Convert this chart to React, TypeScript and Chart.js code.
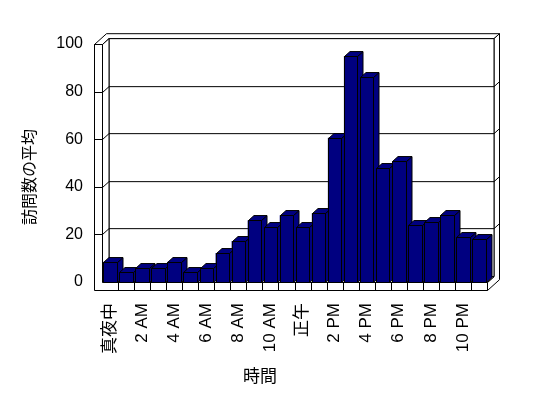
import React, { useEffect, useRef } from 'react';
import { Chart, registerables } from 'chart.js';

Chart.register(...registerables);

// ---- data ----
const hours = [
  '真夜中', '1 AM', '2 AM', '3 AM', '4 AM', '5 AM', '6 AM', '7 AM', '8 AM', '9 AM', '10 AM', '11 AM',
  '正午', '1 PM', '2 PM', '3 PM', '4 PM', '5 PM', '6 PM', '7 PM', '8 PM', '9 PM', '10 PM', '11 PM',
];
const visits = [
  8.5, 4.1, 5.8, 5.8, 8.5, 4.1, 5.8, 12.2, 17.2, 25.9, 23.0, 28.0,
  23.0, 28.9, 60.6, 95.0, 86.0, 47.8, 50.7, 23.8, 25.1, 28.0, 18.8, 17.9,
];
const yTicks = [0, 20, 40, 60, 80, 100];
const xTitle = '時間';
const yTitle = '訪問数の平均';

// ---- 3D look ----
const KX = 1;
const KY = 0.9;
const Z_BAR = 5.5;
const Z_IN = 6.5;
const Z_OUT = 12;
const WALL = 8;
const FLOOR = 8;
const NAVY = '#000080';
const FONT = "'Liberation Sans', 'Noto Sans CJK JP', sans-serif";
const CJK = "'Noto Sans CJK JP', sans-serif";

type Pt = [number, number];
const P = (x: number, y: number, z: number): Pt => [x + z * KX, y - z * KY];

function poly(ctx: CanvasRenderingContext2D, pts: Pt[], fill?: string) {
  ctx.beginPath();
  pts.forEach(([x, y], i) => (i ? ctx.lineTo(x, y) : ctx.moveTo(x, y)));
  ctx.closePath();
  if (fill) {
    ctx.fillStyle = fill;
    ctx.fill();
  }
  ctx.stroke();
}
function line(ctx: CanvasRenderingContext2D, pts: Pt[]) {
  ctx.beginPath();
  pts.forEach(([x, y], i) => (i ? ctx.lineTo(x, y) : ctx.moveTo(x, y)));
  ctx.stroke();
}
const c = (v: number) => Math.round(v) + 0.5;

const box3d = {
  id: 'box3d',
  beforeDatasetsDraw(chart: any) {
    const { ctx, chartArea, scales } = chart;
    const L = c(chartArea.left);
    const R = c(chartArea.right);
    const T = c(chartArea.top);
    const B = c(chartArea.bottom);
    const WL = L - WALL;
    const FB = B + FLOOR;
    ctx.save();
    ctx.lineWidth = 1;
    ctx.strokeStyle = '#000';
    // top faces of left wall and back wall
    poly(ctx, [P(WL, T, 0), P(WL, T, Z_OUT), P(R, T, Z_OUT), P(R, T, Z_IN), P(L, T, Z_IN), P(L, T, 0)], '#fff');
    // right faces of back wall and floor
    poly(ctx, [P(R, T, Z_IN), P(R, T, Z_OUT), P(R, FB, Z_OUT), P(R, FB, 0), P(R, B, 0), P(R, B, Z_IN)], '#fff');
    // back wall
    poly(ctx, [P(L, T, Z_IN), P(R, T, Z_IN), P(R, B, Z_IN), P(L, B, Z_IN)], '#fff');
    // left wall inner face
    poly(ctx, [P(L, T, 0), P(L, T, Z_IN), P(L, B, Z_IN), P(L, B, 0)], '#fff');
    // floor top
    poly(ctx, [P(L, B, 0), P(L, B, Z_IN), P(R, B, Z_IN), P(R, B, 0)], '#fff');
    // front faces of left wall and floor
    poly(ctx, [[WL, T], [L, T], [L, B], [R, B], [R, FB], [WL, FB]], '#fff');
    // gridlines
    yTicks.forEach((v) => {
      const py = c(scales.y.getPixelForValue(v));
      if (v > 0) line(ctx, [[WL, py], [L, py]]);
      if (v > 0 && v < 100) {
        line(ctx, [P(L, py, 0), P(L, py, Z_IN), P(R, py, Z_IN), P(R, py, Z_OUT)]);
      }
    });
    // category dividers on floor front
    for (let i = 1; i < hours.length; i++) {
      const bx = c((scales.x.getPixelForValue(i - 1) + scales.x.getPixelForValue(i)) / 2);
      line(ctx, [[bx, B], [bx, FB]]);
    }
    ctx.restore();
  },
  afterDatasetsDraw(chart: any) {
    const { ctx } = chart;
    const meta = chart.getDatasetMeta(0);
    ctx.save();
    ctx.lineWidth = 1;
    ctx.strokeStyle = '#000';
    meta.data.forEach((bar: any) => {
      const { x, y, base, width } = bar.getProps(['x', 'y', 'base', 'width'], true);
      const l = c(x - width / 2);
      const r = c(x + width / 2);
      const t = c(y);
      const b = c(base);
      poly(ctx, [P(r, t, 0), P(r, t, Z_BAR), P(r, b, Z_BAR), P(r, b, 0)], NAVY);
      poly(ctx, [P(l, t, 0), P(l, t, Z_BAR), P(r, t, Z_BAR), P(r, t, 0)], NAVY);
      poly(ctx, [[l, t], [r, t], [r, b], [l, b]], NAVY);
    });
    ctx.restore();
  },
  afterDraw(chart: any) {
    const { ctx } = chart;
    ctx.save();
    ctx.fillStyle = '#000';
    ctx.textAlign = 'center';
    ctx.textBaseline = 'middle';
    ctx.font = `17px ${CJK}`;
    ctx.fillText(xTitle, 260, 376);
    ctx.translate(29, 177);
    ctx.rotate(-Math.PI / 2);
    ctx.font = `16px ${CJK}`;
    ctx.fillText(yTitle, 0, 0);
    ctx.restore();
  },
};

export default function App() {
  const ref = useRef<HTMLCanvasElement | null>(null);
  useEffect(() => {
    if (!ref.current) return;
    const chart = new Chart(ref.current, {
      type: 'bar',
      data: {
        labels: hours,
        datasets: [
          {
            data: visits,
            backgroundColor: NAVY,
            borderColor: '#000',
            borderWidth: 0,
            barPercentage: 0.84,
            categoryPercentage: 1,
          },
        ],
      },
      options: {
        responsive: false,
        animation: false,
        devicePixelRatio: 1,
        layout: { padding: { top: 44, right: 61, left: 0, bottom: 0 } },
        plugins: { legend: { display: false }, tooltip: { enabled: false }, title: { display: false } },
        scales: {
          x: {
            type: 'category',
            grid: { display: false, drawTicks: false },
            border: { display: false },
            ticks: {
              autoSkip: false,
              minRotation: 90,
              maxRotation: 90,
              padding: 21,
              color: '#000',
              font: { family: FONT, size: 17 },
              callback: (_v: any, i: number) => (i % 2 === 0 ? hours[i] : ''),
            },
            afterFit: (s: any) => {
              s.height = 398 - 282;
            },
          },
          y: {
            min: 0,
            max: 100,
            grid: { display: false, drawTicks: false },
            border: { display: false },
            ticks: {
              stepSize: 20,
              padding: 19,
              color: '#000',
              font: { family: FONT, size: 16 },
            },
            afterFit: (s: any) => {
              s.width = 102;
            },
          },
        },
      },
      plugins: [box3d],
    });
    return () => chart.destroy();
  }, []);
  return (
    <div style={{ position: 'fixed', left: 0, top: 0, width: 548, height: 398, background: '#fff' }}>
      <canvas ref={ref} width={548} height={398} style={{ display: 'block', width: 548, height: 398 }} />
    </div>
  );
}
